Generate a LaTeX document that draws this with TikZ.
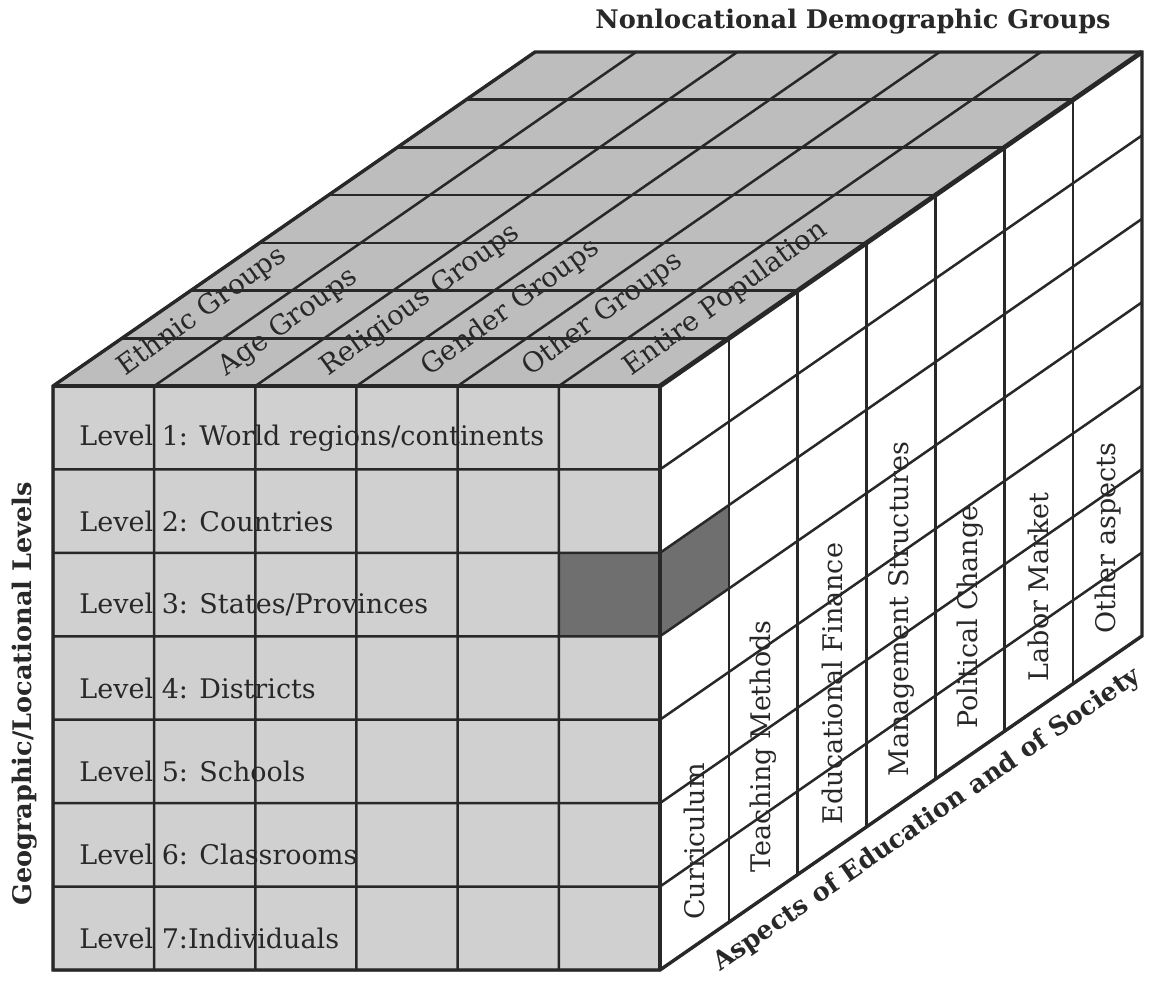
\documentclass[tikz,border=0pt]{standalone}
\usepackage{fontspec}
\setmainfont{DejaVu Serif}
\definecolor{cubetop}{RGB}{189,189,189}
\definecolor{cubefront}{RGB}{208,208,208}
\definecolor{cubedark}{RGB}{111,111,111}
\definecolor{cubeink}{RGB}{40,40,40}
\usetikzlibrary{calc}

\begin{document}
\begin{tikzpicture}[
    x={(50.58pt,0pt)}, y={(0pt,41.71pt)}, z={(34.43pt,23.86pt)},
    gridline/.style={line width=1.25pt, draw=cubeink},
    edgeline/.style={line width=1.7pt, draw=cubeink, line join=miter},
    cornerline/.style={line width=2.4pt, draw=cubeink, line join=miter},
    leveltext/.style={anchor=west, inner sep=0pt, text=cubeink,
                      font=\fontsize{13.5}{16}\selectfont},
    grouptext/.style={anchor=base west, inner sep=0pt, rotate=36, text=cubeink,
                      font=\fontsize{13.7}{16}\selectfont},
    aspecttext/.style={anchor=west, inner sep=0pt, rotate=90, text=cubeink,
                       font=\fontsize{13.5}{16}\selectfont},
    axistitle/.style={inner sep=0pt, text=cubeink,
                      font=\fontsize{12.8}{15}\selectfont\bfseries}
  ]
    \useasboundingbox (-26.5pt,-5pt) rectangle (550.5pt,485pt);

    % Faces of the cube
    \fill[cubefront] (0,0,0) rectangle (6,7,0);
    \fill[cubetop] (0,7,0) -- (6,7,0) -- (6,7,7) -- (0,7,7) -- cycle;
    \fill[white] (6,0,0) -- (6,7,0) -- (6,7,7) -- (6,0,7) -- cycle;

    % Selected cell: level 3, entire population, curriculum
    \fill[cubedark] (5,4,0) rectangle (6,5,0);
    \fill[cubedark] (6,4,0) -- (6,4,1) -- (6,5,1) -- (6,5,0) -- cycle;

    % Front face: locational levels
    \foreach \lab [count=\lv] in {Level 1: World regions/continents, Level 2: Countries,
        Level 3: States/Provinces, Level 4: Districts, Level 5: Schools,
        Level 6: Classrooms, Level 7:Individuals}
      \node[leveltext] (level\lv) at ($(0,7.5-\lv,0)+(13pt,-5pt)$) {\lab};

    % Top face: demographic groups
    \foreach \lab [count=\gr] in {Ethnic Groups, Age Groups, Religious Groups,
        Gender Groups, Other Groups, Entire Population}
      \node[grouptext] (group\gr) at (\gr-.42,7,.2) {\lab};

    % Right face: aspects of education and society
    \foreach \lab [count=\as] in {Curriculum, Teaching Methods, Educational Finance,
        Management Structures, Political Change, Labor Market, Other aspects}
      \node[aspecttext] (aspect\as) at ($(6,0,\as-.5)+(0pt,13pt)$) {\lab};

    % Grid lines
    \foreach \i in {0,...,6}
      \draw[gridline] (\i,0,0) -- (\i,7,0) -- (\i,7,7);
    \foreach \j in {0,...,7}
      \draw[gridline] (0,\j,0) -- (6,\j,0) -- (6,\j,7);
    \foreach \k in {0,...,7}
      \draw[gridline] (0,7,\k) -- (6,7,\k) -- (6,0,\k);

    % Outline of the cube
    \draw[edgeline] (0,0,0) -- (0,7,0) -- (0,7,7) -- (6,7,7) -- (6,0,7) -- (6,0,0) -- cycle;
    \draw[cornerline] (0,7,0) -- (6,7,0) -- (6,0,0);
    \draw[cornerline] (6,7,0) -- (6,7,7);

    % Axis titles
    \node[axistitle] (groupsaxis) at (400pt,474pt) {Nonlocational Demographic Groups};
    \node[axistitle, rotate=90] (levelsaxis) at (-14pt,138pt) {Geographic/Locational Levels};
    \node[axistitle, rotate=34.7, anchor=north] (aspectsaxis)
      at ($(6,0,3.64)+(4.6pt,-6.6pt)$) {Aspects of Education and of Society};
\end{tikzpicture}
\end{document}
